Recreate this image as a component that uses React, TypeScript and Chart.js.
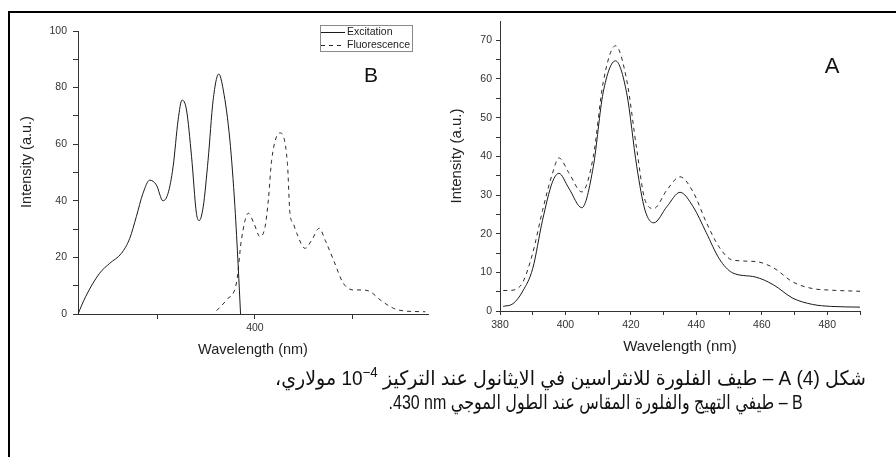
import React, { useEffect, useRef } from "react";
import { Chart, registerables } from "chart.js";
Chart.register(...registerables);

// ---------- Panel B: excitation & fluorescence ----------
const excitationWavelength = [309, 312.9, 320.1, 325.3, 331.3, 335.6, 339.0, 342.4, 345.9, 349.3, 352.7, 355.3, 357.9, 360.5, 362.5, 364.8, 367.4, 369.9, 371.3, 373.4, 375.9, 378.5, 381.4, 383.7, 387.1, 389.7, 391.4, 392.6];
const excitationIntensity = [0, 6.1, 14.4, 17.9, 21.4, 26.7, 34.4, 42.6, 47.3, 45.6, 40.0, 42.6, 52.0, 68.6, 75.6, 72.1, 55.6, 35.6, 33.0, 37.9, 54.4, 75.6, 84.8, 79.2, 61.5, 37.9, 16.7, 0];

const fluorBWavelength = [380.3, 385.4, 390.6, 393.0, 396.6, 399.5, 402.6, 405.2, 406.9, 408.6, 412.9, 416.7, 418.0, 419.7, 421.5, 425.8, 429.2, 433.1, 436.1, 440.4, 445.5, 450.7, 455.0, 459.3, 464.4, 471.3, 476.5, 487.6];
const fluorBIntensity = [1.2, 5.0, 11.4, 26.0, 35.6, 32.0, 27.3, 30.8, 40.3, 54.4, 64.0, 53.2, 35.6, 32.0, 28.5, 23.2, 26.1, 30.3, 26.1, 19.1, 10.8, 8.5, 8.5, 7.9, 5.0, 2.0, 1.1, 0.8];

const bXTicks = [350, 400, 450];
const bXLabels = [400];
const bYTicks = [0, 10, 20, 30, 40, 50, 60, 70, 80, 90, 100];
const bYLabels = [0, 20, 40, 60, 80, 100];

// ---------- Panel A: fluorescence in ethanol ----------
const aWavelength = [381, 384, 387, 390, 393, 396, 398, 401, 405, 408.5, 411.5, 415.3, 418.7, 421.8, 424.3, 427, 431, 435, 439, 443, 447, 451, 458, 463.5, 469.5, 475.5, 481, 490];
const aSolid = [1.2, 1.9, 5.2, 11.0, 23.5, 33.3, 35.6, 31.8, 26.7, 37.3, 56.4, 64.7, 56.4, 37.3, 26.1, 22.8, 27.0, 30.7, 27.0, 20.3, 13.5, 9.9, 8.8, 6.8, 3.3, 1.7, 1.2, 1.0];
const aDashed = [5.3, 5.4, 7.5, 15.0, 26.0, 35.5, 39.6, 35.8, 30.8, 39.9, 59.0, 68.6, 59.8, 41.7, 28.7, 26.5, 31.3, 34.7, 30.8, 23.0, 16.5, 13.2, 12.8, 11.2, 7.5, 5.8, 5.4, 5.1];

const aXTicks = [380, 390, 400, 410, 420, 430, 440, 450, 460, 470, 480, 490];
const aXLabels = [380, 400, 420, 440, 460, 480];
const aYTicks = [0, 5, 10, 15, 20, 25, 30, 35, 40, 45, 50, 55, 60, 65, 70];
const aYLabels = [0, 10, 20, 30, 40, 50, 60, 70];

const seriesLabels = ["Excitation", "Fluorescence"];
const xTitle = "Wavelength (nm)";
const yTitle = "Intensity (a.u.)";

const FONT = "'Liberation Sans', Arial, sans-serif";
const AXIS = "#333333";

const toPoints = (xs: number[], ys: number[]) => xs.map((x, i) => ({ x, y: ys[i] }));

const overlayPlugin = {
  id: "overlay",
  afterDraw(chart: any, _args: any, opts: any) {
    const ctx = chart.ctx as CanvasRenderingContext2D;
    ctx.save();
    for (const t of opts.texts || []) {
      ctx.save();
      ctx.font = t.font;
      ctx.fillStyle = t.color || "#222";
      ctx.textAlign = "center";
      ctx.textBaseline = "middle";
      ctx.translate(t.x, t.y);
      if (t.rotate) ctx.rotate(t.rotate);
      ctx.fillText(t.text, 0, 0);
      ctx.restore();
    }
    const lg = opts.legend;
    if (lg) {
      ctx.strokeStyle = "#8a8a8a";
      ctx.lineWidth = 1;
      ctx.strokeRect(lg.x + 0.5, lg.y + 0.5, lg.w, lg.h);
      ctx.font = lg.font;
      ctx.fillStyle = "#222";
      ctx.textAlign = "left";
      ctx.textBaseline = "middle";
      chart.data.datasets.forEach((ds: any, i: number) => {
        const yy = lg.y + lg.rowTop + i * lg.rowH;
        ctx.save();
        ctx.strokeStyle = ds.borderColor;
        ctx.setLineDash(ds.borderDash || []);
        ctx.beginPath();
        ctx.moveTo(lg.x + 1, Math.round(yy) + 0.5);
        ctx.lineTo(lg.x + 1 + lg.sample, Math.round(yy) + 0.5);
        ctx.stroke();
        ctx.restore();
        ctx.fillText(ds.label, lg.x + lg.sample + 3, yy);
      });
    }
    ctx.restore();
  },
};

function makeScales(cfg: any) {
  const tickFont = { family: FONT, size: 10.5 };
  return {
    x: {
      type: "linear",
      min: cfg.xMin,
      max: cfg.xMax,
      afterBuildTicks: (s: any) => {
        s.ticks = cfg.xTicks.map((v: number) => ({ value: v }));
      },
      afterFit: (s: any) => {
        s.height = cfg.xHeight;
      },
      ticks: {
        autoSkip: false,
        maxRotation: 0,
        padding: cfg.xPad,
        color: AXIS,
        font: tickFont,
        callback: (v: any) => (cfg.xLabels.includes(v) ? String(v) : ""),
      },
      grid: { drawOnChartArea: false, drawTicks: true, tickLength: cfg.tick, color: AXIS },
      border: { display: true, color: AXIS, width: 1 },
    },
    y: {
      type: "linear",
      min: cfg.yMin,
      max: cfg.yMax,
      afterBuildTicks: (s: any) => {
        s.ticks = cfg.yTicks.map((v: number) => ({ value: v }));
      },
      afterFit: (s: any) => {
        s.width = cfg.yWidth;
      },
      ticks: {
        autoSkip: false,
        padding: cfg.yPad,
        color: AXIS,
        font: tickFont,
        callback: (v: any) => (cfg.yLabels.includes(v) ? String(v) : ""),
      },
      grid: { drawOnChartArea: false, drawTicks: true, tickLength: cfg.tick, color: AXIS },
      border: { display: true, color: AXIS, width: 1 },
    },
  };
}

const lineDs = (label: string, pts: any[], dashed: boolean) => ({
  label,
  data: pts,
  borderColor: dashed ? "#2a2a2a" : "#1a1a1a",
  borderWidth: 1,
  borderDash: dashed ? [4, 4] : [],
  pointRadius: 0,
  fill: false,
  cubicInterpolationMode: "monotone",
});

function ChartB() {
  const ref = useRef<HTMLCanvasElement>(null);
  useEffect(() => {
    const chart = new Chart(ref.current as HTMLCanvasElement, {
      type: "line",
      data: {
        datasets: [
          lineDs(seriesLabels[0], toPoints(excitationWavelength, excitationIntensity), false),
          lineDs(seriesLabels[1], toPoints(fluorBWavelength, fluorBIntensity), true),
        ],
      } as any,
      options: {
        animation: false,
        responsive: false,
        events: [],
        layout: { padding: { left: 10, top: 31, right: 17, bottom: 0 } },
        plugins: {
          legend: { display: false },
          tooltip: { enabled: false },
          overlay: {
            texts: [
              { text: yTitle, x: 27, y: 162, rotate: -Math.PI / 2, font: `14.5px ${FONT}` },
              { text: xTitle, x: 253, y: 350, font: `14.5px ${FONT}` },
              { text: "B", x: 371, y: 76, font: `21px ${FONT}`, color: "#111" },
            ],
            legend: { x: 320, y: 25, w: 92, h: 26, rowTop: 7, rowH: 12.7, sample: 24, font: `10.5px ${FONT}` },
          },
        } as any,
        scales: makeScales({
          xMin: 309, xMax: 489, xTicks: bXTicks, xLabels: bXLabels, xHeight: 51, xPad: 3,
          yMin: 0, yMax: 100, yTicks: bYTicks, yLabels: bYLabels, yWidth: 68, yPad: 6, tick: 5,
        }) as any,
      },
      plugins: [overlayPlugin as any],
    });
    return () => chart.destroy();
  }, []);
  return <canvas ref={ref} width={445} height={365} style={{ position: "absolute", left: 0, top: 0 }} />;
}

function ChartA() {
  const ref = useRef<HTMLCanvasElement>(null);
  useEffect(() => {
    const chart = new Chart(ref.current as HTMLCanvasElement, {
      type: "line",
      data: {
        datasets: [
          lineDs("A solid", toPoints(aWavelength, aSolid), false),
          lineDs("A dashed", toPoints(aWavelength, aDashed), true),
        ],
      } as any,
      options: {
        animation: false,
        responsive: false,
        events: [],
        layout: { padding: { left: 10, top: 21, right: 36, bottom: 0 } },
        plugins: {
          legend: { display: false },
          tooltip: { enabled: false },
          overlay: {
            texts: [
              { text: yTitle, x: 12, y: 156, rotate: -Math.PI / 2, font: `15px ${FONT}` },
              { text: xTitle, x: 235, y: 347, font: `15px ${FONT}` },
              { text: "A", x: 387, y: 67, font: `22px ${FONT}`, color: "#111" },
            ],
          },
        } as any,
        scales: makeScales({
          xMin: 380, xMax: 490, xTicks: aXTicks, xLabels: aXLabels, xHeight: 54, xPad: 4,
          yMin: 0, yMax: 75, yTicks: aYTicks, yLabels: aYLabels, yWidth: 45, yPad: 4, tick: 4,
        }) as any,
      },
      plugins: [overlayPlugin as any],
    });
    return () => chart.destroy();
  }, []);
  return <canvas ref={ref} width={451} height={365} style={{ position: "absolute", left: 445, top: 0 }} />;
}

export default function App() {
  const capFont = "'Liberation Sans', 'DejaVu Sans', Arial, sans-serif";
  const capStyle: React.CSSProperties = {
    position: "absolute",
    fontFamily: capFont,
    fontSize: 20,
    lineHeight: "24px",
    whiteSpace: "nowrap",
    color: "#111",
    transformOrigin: "right center",
  };
  return (
    <div style={{ position: "fixed", left: 0, top: 0, width: 896, height: 457, overflow: "hidden", background: "#fff" }}>
      <div style={{ position: "absolute", left: 8, top: 11, width: 1000, height: 1000, borderTop: "2px solid #000", borderLeft: "2px solid #000" }} />
      <ChartB />
      <ChartA />
      <div dir="rtl" style={{ ...capStyle, right: 30, top: 366, transform: "scaleX(0.95)" }}>
        شكل (4) A – طيف الفلورة للانثراسين في الايثانول عند التركيز <span dir="ltr">10<sup style={{ fontSize: "0.7em", lineHeight: 0 }}>−4</sup></span> مولاري،
      </div>
      <div dir="rtl" style={{ ...capStyle, right: 93, top: 390, transform: "scaleX(0.8)" }}>
        B – طيفي التهيج والفلورة المقاس عند الطول الموجي <span dir="ltr">430 nm</span>.
      </div>
    </div>
  );
}
